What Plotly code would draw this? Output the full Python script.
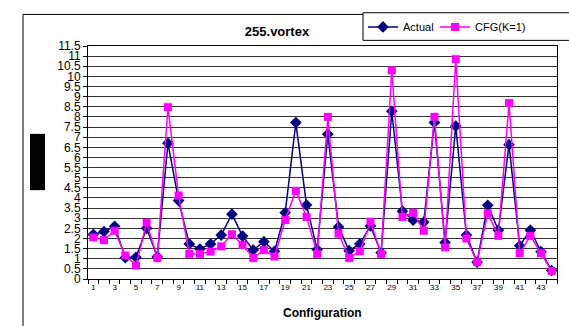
import plotly.graph_objects as go

configs = list(range(1, 45))
actual = [2.2, 2.34, 2.6, 1.05, 1.07, 2.5, 1.1, 6.7, 3.87, 1.73,
          1.48, 1.73, 2.17, 3.2, 2.12, 1.43, 1.84, 1.37, 3.27, 7.72,
          3.65, 1.45, 7.15, 2.57, 1.4, 1.73, 2.62, 1.29, 8.28, 3.35,
          2.9, 2.81, 7.73, 1.8, 7.55, 2.17, 0.83, 3.64, 2.41, 6.63,
          1.64, 2.41, 1.35, 0.42]
cfg = [2.05, 1.92, 2.38, 1.16, 0.67, 2.78, 1.04, 8.48, 4.12, 1.24,
       1.24, 1.35, 1.61, 2.21, 1.68, 1.04, 1.43, 1.11, 2.91, 4.35,
       3.06, 1.24, 8.0, 2.24, 1.04, 1.37, 2.83, 1.24, 10.3, 3.06,
       3.27, 2.38, 8.0, 1.56, 10.85, 2.0, 0.83, 3.24, 2.13, 8.68,
       1.27, 2.13, 1.27, 0.39]
y_ticks = [i * 0.5 for i in range(24)]
y_labels = [("%g" % v) for v in y_ticks]
x_ticks = list(range(1, 44, 2))

W, H = 569, 326
L, R, T, B = 88, 557, 43, 279
FONT = "Arial, Liberation Sans, sans-serif"

def px_x(p):
    return (p - L) / (R - L)

def px_y(p):
    return (B - p) / (B - T)

fig = go.Figure()
fig.add_trace(go.Scatter(
    x=configs, y=actual, name="Actual", mode="lines+markers", legendwidth=27,
    line=dict(color="#000080", width=1.5),
    marker=dict(symbol="diamond", size=9, color="#000080")))
fig.add_trace(go.Scatter(
    x=configs, y=cfg, name="CFG(K=1)", mode="lines+markers", legendwidth=70,
    line=dict(color="#FF00FF", width=1.5),
    marker=dict(symbol="square", size=8, color="#FF00FF")))

fig.update_layout(
    width=W, height=H,
    margin=dict(l=L, r=W - R, t=T, b=H - B, pad=0),
    paper_bgcolor="white", plot_bgcolor="white",
    font=dict(family=FONT, color="black"),
    title=dict(text="<b>255.vortex</b>", x=277 / W, xanchor="center",
               y=1 - 31 / H, yanchor="middle", xref="container", yref="container",
               font=dict(size=13, family=FONT, color="black")),
    showlegend=True,
    legend=dict(orientation="h", x=px_x(363), y=px_y(9), xanchor="left", yanchor="top",
                borderwidth=0, bgcolor="rgba(0,0,0,0)",
                font=dict(size=11, family=FONT), itemwidth=30,
                traceorder="normal"),
    xaxis=dict(range=[0.5, 44.5], tickmode="array", tickvals=x_ticks,
               ticktext=[str(v) for v in x_ticks], ticks="", showgrid=False,
               showline=True, linecolor="black", linewidth=1, mirror=True,
               tickfont=dict(size=8, family=FONT), zeroline=False,
               minor=dict(ticks="outside", tick0=0.5, dtick=1, ticklen=4,
                          tickcolor="black", showgrid=False)),
    yaxis=dict(range=[0, 11.5], tickmode="array", tickvals=y_ticks, ticktext=y_labels,
               ticks="outside", ticklen=4, tickcolor="black",
               showgrid=True, gridcolor="#333333", gridwidth=1,
               showline=True, linecolor="black", linewidth=1, mirror=True,
               tickfont=dict(size=12, family=FONT), zeroline=False),
    annotations=[dict(text="<b>Configuration</b>", x=0.5, y=px_y(313), xref="paper",
                      yref="paper", xanchor="center", yanchor="middle", showarrow=False,
                      font=dict(size=12, family=FONT, color="black"))],
    shapes=[
        dict(type="rect", xref="paper", yref="paper",
             x0=px_x(23), x1=px_x(700), y0=px_y(11), y1=px_y(500),
             line=dict(color="black", width=1), layer="below"),
        dict(type="rect", xref="paper", yref="paper",
             x0=px_x(30), x1=px_x(45), y0=px_y(189), y1=px_y(132),
             fillcolor="black", line=dict(width=0)),
        dict(type="rect", xref="paper", yref="paper",
             x0=px_x(363), x1=px_x(700), y0=px_y(37.3), y1=px_y(9.3),
             fillcolor="white", line=dict(color="black", width=1), layer="above"),
    ],
)

fig.write_html("out.html")
